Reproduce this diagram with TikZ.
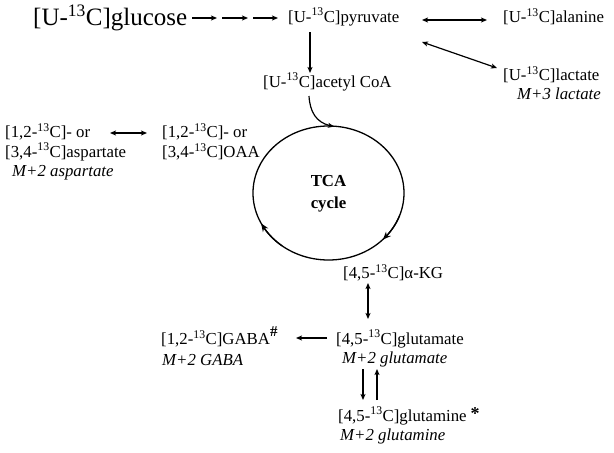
\documentclass[tikz,border=0pt]{standalone}
\usepackage{fontspec}
\setmainfont{Liberation Serif}
\usetikzlibrary{arrows.meta,shapes.geometric,bending}
\newcommand{\Cth}{\textsuperscript{13}C}
\begin{document}
\begin{tikzpicture}[x=1pt,y=-1pt,
  lbl/.style={anchor=west,inner sep=0pt,font=\fontsize{16.8}{20}\selectfont},
  ital/.style={lbl,font=\fontsize{16.8}{20}\selectfont\itshape},
  arr/.style={line width=1.2pt,-{Stealth[length=6pt,width=5pt,inset=1.5pt]}},
  carr/.style={line width=1.3pt,-{Stealth[length=8pt,width=6.5pt,inset=2.5pt,bend]}},
  darr/.style={line width=1.2pt,{Stealth[length=6pt,width=5pt,inset=1.5pt]}-{Stealth[length=6pt,width=5pt,inset=1.5pt]}}]
\useasboundingbox (0,0) rectangle (614,453);
% nodes
\node[lbl,font=\fontsize{25}{28}\selectfont] (glu) at (33,18) {[U-\Cth]glucose};
\node[lbl] (pyr) at (288,17) {[U-\Cth]pyruvate};
\node[lbl] (ala) at (503,17) {[U-\Cth]alanine};
\node[lbl] (lac) at (503,75) {[U-\Cth]lactate};
\node[ital] (laclab) at (517,94) {M+3 lactate};
\node[lbl] (acc) at (263,82) {[U-\Cth]acetyl CoA};
\node[lbl] (asp1) at (5,132) {[1,2-\Cth]- or};
\node[lbl] (asp2) at (5,152) {[3,4-\Cth]aspartate};
\node[ital] (asplab) at (12,173) {M+2 aspartate};
\node[lbl] (oaa1) at (162,132) {[1,2-\Cth]- or};
\node[lbl] (oaa2) at (162,152) {[3,4-\Cth]OAA};
\node[draw,ellipse,line width=1.3pt,minimum width=151pt,minimum height=134pt,inner sep=0pt] (cyc) at (328.5,193) {};
\node[align=center,font=\fontsize{16.8}{22}\selectfont\bfseries,inner sep=0pt] (tca) at (328.5,194) {TCA\\cycle};
\node[lbl] (akg) at (343,273) {[4,5-\Cth]α-KG};
\node[lbl] (glt) at (336,339) {[4,5-\Cth]glutamate};
\node[ital] (gltlab) at (342,359) {M+2 glutamate};
\node[lbl] (gaba) at (161,339) {[1,2-\Cth]GABA};
\node[anchor=west,inner sep=0pt,font=\fontsize{15}{15}\selectfont\bfseries] (hash) at (270,332) {\#};
\node[ital] (gabalab) at (162,360) {M+2 GABA};
\node[lbl] (gln) at (338,416) {[4,5-\Cth]glutamine};
\node[anchor=center,inner sep=0pt,font=\fontsize{18}{18}\selectfont\bfseries] (star) at (475,414) {*};
\node[ital] (glnlab) at (340,436) {M+2 glutamine};
% glucose chain
\coordinate (g1) at (192,18); \coordinate (g2) at (217,18);
\coordinate (g3) at (222,18); \coordinate (g4) at (248,18);
\coordinate (g5) at (253,18); \coordinate (g6) at (278,18);
\draw[arr] (g1) -- (g2);
\draw[arr] (g3) -- (g4);
\draw[arr] (g5) -- (g6);
% pyruvate links
\coordinate (pa1) at (422,20); \coordinate (pa2) at (487,20);
\draw[darr] (pa1) -- (pa2);
\coordinate (pl1) at (422,42); \coordinate (pl2) at (497,68);
\draw[darr] (pl1) -- (pl2);
\coordinate (pc1) at (310,32); \coordinate (pc2) at (310,73);
\draw[arr] (pc1) -- (pc2);
% acetyl CoA into cycle
\coordinate (ac1) at (309,96); \coordinate (ac2) at (334,126.5);
\draw[arr] (ac1) .. controls (310,113) and (317,124) .. (ac2);
% cycle arrows
\draw[carr] ([shift={(20:75.5 and 67)}]cyc.center) arc[start angle=20,end angle=44,x radius=75.5,y radius=67];
\draw[carr] ([shift={(128:75.5 and 67)}]cyc.center) arc[start angle=128,end angle=153,x radius=75.5,y radius=67];
% aspartate
\coordinate (as1) at (110,133); \coordinate (as2) at (147,133);
\draw[darr] (as1) -- (as2);
% akg - glutamate
\coordinate (ak1) at (368,283); \coordinate (ak2) at (368,319);
\draw[darr] (ak1) -- (ak2);
% glutamate - GABA
\coordinate (gb1) at (327,338); \coordinate (gb2) at (296,338);
\draw[arr] (gb1) -- (gb2);
% glutamate - glutamine
\coordinate (gq1) at (363,369); \coordinate (gq2) at (363,400);
\draw[arr] (gq1) -- (gq2);
\coordinate (gq3) at (377,400); \coordinate (gq4) at (377,369);
\draw[arr] (gq3) -- (gq4);
\end{tikzpicture}
\end{document}
